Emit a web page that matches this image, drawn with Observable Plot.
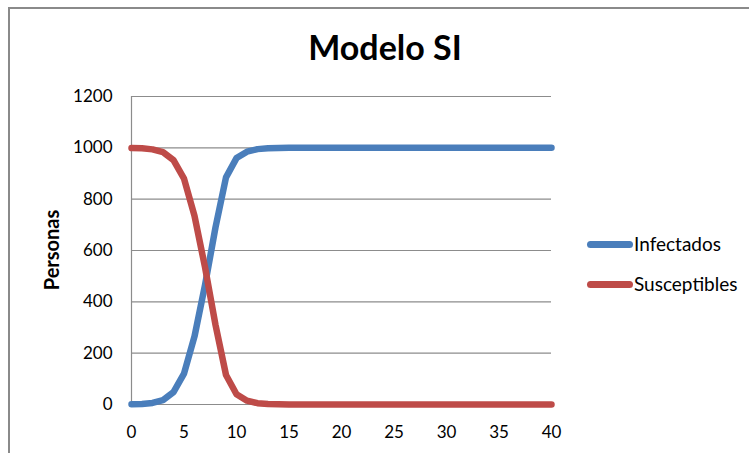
<!DOCTYPE html>
<html>
<head>
<meta charset="utf-8">
<script src="https://cdn.jsdelivr.net/npm/d3@7"></script>
<script src="https://cdn.jsdelivr.net/npm/@observablehq/plot@0.6"></script>
<style>
  html, body { margin: 0; padding: 0; background: #fff; }
  #wrap { position: relative; width: 749px; height: 453px; overflow: hidden; font-family: Lato, "Open Sans", sans-serif; }
  #frame { position: absolute; left: 8px; top: 7px; width: 760px; height: 460px; border-left: 2px solid #8a8a8a; border-top: 2px solid #8a8a8a; box-sizing: border-box; }
  #title { position: absolute; left: 0; width: 770px; top: 25px; line-height: 44px; text-align: center; font-weight: bold; font-size: 34px; color: #000; }
  #ylabel { position: absolute; left: 51px; top: 250px; transform: translate(-50%, -50%) rotate(-90deg); font-weight: bold; font-size: 20px; white-space: nowrap; color: #000; }
  #chart { position: absolute; left: 0; top: 0; }
  .leg { position: absolute; left: 587px; font-size: 19px; line-height: 24px; color: #000; display: flex; align-items: center; }
  .leg span.sw { display: inline-block; width: 46px; height: 7px; border-radius: 3.5px; margin-right: 1px; }
</style>
</head>
<body>
<div id="wrap">
  <div id="frame"></div>
  <div id="title">Modelo SI</div>
  <div id="ylabel">Personas</div>
  <div id="chart"></div>
  <div id="legend"></div>
</div>
<script>
const days = d3.range(0, 41);
const infectados = [1, 2, 6, 17, 48, 120, 265, 465, 690, 885, 960, 985, 995, 998, 999,
  1000, 1000, 1000, 1000, 1000, 1000, 1000, 1000, 1000, 1000, 1000, 1000, 1000, 1000, 1000,
  1000, 1000, 1000, 1000, 1000, 1000, 1000, 1000, 1000, 1000, 1000];
const susceptibles = [999, 998, 994, 983, 952, 880, 735, 535, 310, 115, 40, 15, 5, 2, 1,
  0, 0, 0, 0, 0, 0, 0, 0, 0, 0, 0, 0, 0, 0, 0,
  0, 0, 0, 0, 0, 0, 0, 0, 0, 0, 0];
const seriesNames = ["Infectados", "Susceptibles"];
const seriesColors = ["#4a7ebb", "#be4b48"];
const yTicks = [0, 200, 400, 600, 800, 1000, 1200];
const xTicks = [0, 5, 10, 15, 20, 25, 30, 35, 40];

const rows = [];
days.forEach((d, i) => {
  rows.push({t: d, v: infectados[i], s: seriesNames[0]});
  rows.push({t: d, v: susceptibles[i], s: seriesNames[1]});
});

const plot = Plot.plot({
  width: 749,
  height: 453,
  marginLeft: 131,
  marginRight: 198,
  marginTop: 96,
  marginBottom: 49,
  style: {fontFamily: "Lato, 'Open Sans', sans-serif", fontSize: "17px", color: "#000", background: "transparent"},
  x: {domain: [0, 40], label: null},
  y: {domain: [0, 1200], label: null},
  color: {domain: seriesNames, range: seriesColors},
  marks: [
    Plot.ruleY(yTicks, {stroke: "#8c8c8c", strokeWidth: 1.2}),
    Plot.ruleX([0], {stroke: "#8c8c8c", strokeWidth: 1.2}),
    Plot.axisX({ticks: xTicks, tickFormat: d => String(d), tickSize: 0, tickPadding: 21, label: null, fontSize: 17}),
    Plot.axisY({ticks: yTicks, tickFormat: d => String(d), tickSize: 0, tickPadding: 19, label: null, fontSize: 17}),
    Plot.line(rows, {x: "t", y: "v", z: "s", stroke: "s", strokeWidth: 6.5, curve: "linear", strokeLinecap: "round", strokeLinejoin: "round"})
  ]
});
document.getElementById("chart").appendChild(plot);

const legend = document.getElementById("legend");
seriesNames.forEach((n, i) => {
  const div = document.createElement("div");
  div.className = "leg";
  div.style.top = (232 + i * 40) + "px";
  div.innerHTML = `<span class="sw" style="background:${seriesColors[i]}"></span>${n}`;
  legend.appendChild(div);
});
</script>
</body>
</html>
